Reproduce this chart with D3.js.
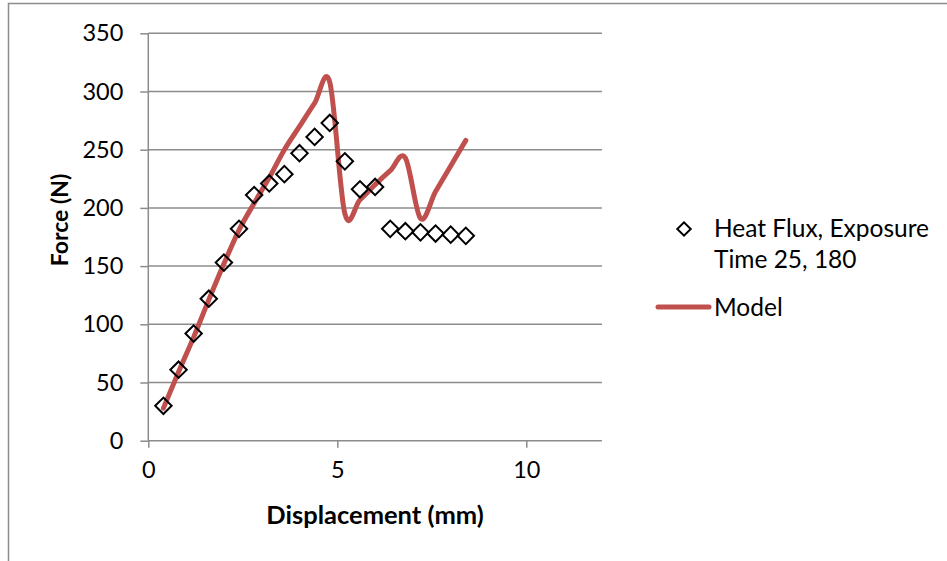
<!DOCTYPE html>
<html>
<head>
<meta charset="utf-8">
<script src="https://cdn.jsdelivr.net/npm/d3@7"></script>
<style>
  html, body { margin: 0; padding: 0; background: #fff; }
  svg { display: block; }
</style>
</head>
<body>
<svg id="chart" width="947" height="561"></svg>
<script>
// Force vs displacement: measured points (diamonds) and smoothed model curve
const dispX   = [0.4, 0.8, 1.2, 1.6, 2.0, 2.4, 2.8, 3.2, 3.6, 4.0, 4.4, 4.8, 5.2, 5.6, 6.0, 6.4, 6.8, 7.2, 7.6, 8.0, 8.4];
const measured = [30, 61, 92, 122, 153, 182, 211, 221, 229, 247, 261, 273, 240, 216, 218, 182, 180, 179, 178, 177, 176];
const model    = [28, 59, 89, 121, 152, 181, 204, 226, 250, 270, 290, 308, 195, 207, 220, 232, 243, 191, 214, 236, 258];
const xTicks = [0, 5, 10];
const yTicks = [0, 50, 100, 150, 200, 250, 300, 350];
const legendLabels = [['Heat Flux, Exposure', 'Time 25, 180'], ['Model']];

const FONT = 'Lato, "Open Sans", sans-serif';
const GRID = '#8c8c8c', RED = '#c0504d', INK = '#000';
const L = 148.3, R = 601.9, T = 33.3, B = 440.7;

const svg = d3.select('#chart');

// outer chart frame (only left/top visible in frame)
svg.append('rect').attr('x', 8.5).attr('y', 3.5).attr('width', 960).attr('height', 620)
  .attr('fill', 'none').attr('stroke', GRID).attr('stroke-width', 1.5);

const x = d3.scaleLinear().domain([0, 12]).range([L, R]);
const y = d3.scaleLinear().domain([0, 350]).range([B, T]);

// horizontal gridlines
svg.append('g').selectAll('line').data(yTicks.slice(1)).join('line')
  .attr('x1', L).attr('x2', R).attr('y1', d => y(d)).attr('y2', d => y(d))
  .attr('stroke', GRID).attr('stroke-width', 1.5);

// axes
const yAxis = svg.append('g').attr('transform', `translate(${L},0)`)
  .call(d3.axisLeft(y).tickValues(yTicks).tickSize(8).tickPadding(17));
const xAxis = svg.append('g').attr('transform', `translate(0,${B})`)
  .call(d3.axisBottom(x).tickValues(xTicks).tickSize(7).tickPadding(14));
[yAxis, xAxis].forEach(g => {
  g.select('.domain').attr('stroke', GRID).attr('stroke-width', 1.5);
  g.selectAll('.tick line').attr('stroke', GRID).attr('stroke-width', 1.5);
  g.selectAll('.tick text').attr('font-family', FONT).attr('font-size', 23.5).attr('fill', INK);
});
xAxis.select('.domain').attr('d', `M${L},0H${R}`);
yAxis.select('.domain').attr('d', `M0,${B}V${T}`);
xAxis.selectAll('.tick text').attr('dy', '0.71em');

// axis titles
svg.append('text').attr('x', 375).attr('y', 524).attr('text-anchor', 'middle')
  .attr('font-family', FONT).attr('font-size', 25.5).attr('font-weight', 700).attr('fill', INK)
  .text('Displacement (mm)');
svg.append('text').attr('transform', 'translate(68,220) rotate(-90)').attr('text-anchor', 'middle')
  .attr('font-family', FONT).attr('font-size', 23).attr('font-weight', 700).attr('fill', INK)
  .text('Force (N)');

// model line (Excel-style smoothed)
const line = d3.line().x(d => x(d[0])).y(d => y(d[1])).curve(d3.curveCardinal.tension(0));
svg.append('path').datum(d3.zip(dispX, model)).attr('d', line)
  .attr('fill', 'none').attr('stroke', RED).attr('stroke-width', 5)
  .attr('stroke-linecap', 'round').attr('stroke-linejoin', 'round');

// measured diamonds
const diamond = d3.symbol(d3.symbolSquare, 135);
svg.append('g').selectAll('path').data(d3.zip(dispX, measured)).join('path')
  .attr('d', diamond)
  .attr('transform', d => `translate(${x(d[0])},${y(d[1])}) rotate(45)`)
  .attr('fill', 'none').attr('stroke', INK).attr('stroke-width', 2);

// legend
const lg = svg.append('g');
lg.append('path').attr('d', d3.symbol(d3.symbolSquare, 90))
  .attr('transform', 'translate(684,229) rotate(45)')
  .attr('fill', 'none').attr('stroke', INK).attr('stroke-width', 2);
legendLabels[0].forEach((t, i) => {
  lg.append('text').attr('x', 714).attr('y', 228 + i * 31).attr('dy', '0.35em')
    .attr('font-family', FONT).attr('font-size', 24.5).attr('fill', INK).text(t);
});
lg.append('line').attr('x1', 658).attr('x2', 709).attr('y1', 307).attr('y2', 307)
  .attr('stroke', RED).attr('stroke-width', 5).attr('stroke-linecap', 'round');
lg.append('text').attr('x', 714).attr('y', 307).attr('dy', '0.35em')
  .attr('font-family', FONT).attr('font-size', 24.5).attr('fill', INK).text(legendLabels[1][0]);
</script>
</body>
</html>
